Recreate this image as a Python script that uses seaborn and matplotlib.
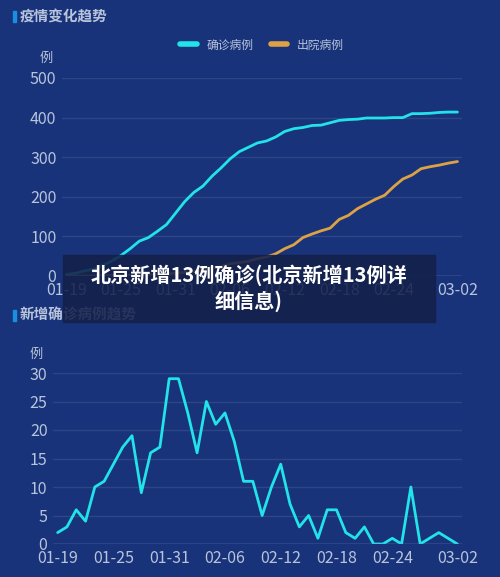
import matplotlib
matplotlib.use("Agg")
import matplotlib.pyplot as plt
import seaborn as sns
import pandas as pd
import numpy as np
import datetime as dt

sns.set_theme(style="white")
plt.rcParams['font.family'] = ['Noto Sans CJK SC', 'DejaVu Sans']

dates = [(dt.date(2020, 1, 19) + dt.timedelta(days=i)).strftime("%m-%d") for i in range(44)]
tick_labels = ["01-19", "01-25", "01-31", "02-06", "02-12", "02-18", "02-24", "03-02"]
confirmed = [4, 7, 13, 17, 27, 38, 52, 69, 88, 97, 113, 130, 159, 188, 211, 227, 252, 273,
             296, 314, 325, 336, 341, 351, 365, 372, 375, 380, 381, 387, 393, 395, 396, 399,
             399, 399, 400, 400, 410, 410, 411, 413, 414, 414]
recovered = [0, 0, 0, 0, 1, 1, 1, 2, 2, 4, 4, 5, 7, 9, 12, 15, 21, 24, 31, 34, 37, 44, 48, 56,
             69, 79, 97, 106, 114, 121, 143, 153, 170, 182, 194, 204, 226, 245, 255, 271, 276,
             280, 285, 289]
new_cases = [2, 3, 6, 4, 10, 11, 14, 17, 19, 9, 16, 17, 29, 29, 23, 16, 25, 21, 23, 18, 11, 11,
             5, 10, 14, 7, 3, 5, 1, 6, 6, 2, 1, 3, 0, 0, 1, 0, 10, 0, 1, 2, 1, 0]

BG = "#183379"
CYAN = "#22e3ea"
ORANGE = "#dda245"
TXT = "#b8c4dc"
GRID = "#2c4688"

df = pd.DataFrame({"x": np.arange(44), "确诊病例": confirmed, "出院病例": recovered, "new": new_cases})

fig = plt.figure(figsize=(5, 5.77), dpi=100, facecolor=BG)
W, H = 500, 577

def style(ax, yticks):
    ax.set_facecolor(BG)
    for s in ax.spines.values():
        s.set_visible(False)
    ax.set_yticks(yticks)
    ax.set_ylim(yticks[0], yticks[-1])
    ax.grid(axis="y", color=GRID, lw=1)
    ax.set_xlim(-0.5, 43.5)
    ticks = [0, 6, 12, 18, 24, 30, 36, 43]
    ax.set_xticks(ticks)
    ax.set_xticklabels(tick_labels)
    ax.tick_params(colors=TXT, labelsize=11.5, length=0, pad=4)
    ax.set_xlabel(""); ax.set_ylabel("")
    ax.axhline(yticks[0], color="#6a7fb0", lw=1)

ax1 = fig.add_axes([62/W, 1-276/H, 400/W, 198/H])
sns.lineplot(data=df, x="x", y="确诊病例", color=CYAN, lw=2, ax=ax1, label="确诊病例")
sns.lineplot(data=df, x="x", y="出院病例", color=ORANGE, lw=2, ax=ax1, label="出院病例")
style(ax1, [0, 100, 200, 300, 400, 500])
leg = ax1.legend(loc="lower center", bbox_to_anchor=(0.5, 1.08), ncol=2, frameon=False,
                 fontsize=8.5, labelcolor=TXT, handlelength=1.4, columnspacing=1.5)
for l in leg.get_lines():
    l.set_linewidth(4)
ax1.text(-0.04, 1.08, "例", transform=ax1.transAxes, color=TXT, fontsize=9.5, ha="center")

ax2 = fig.add_axes([53/W, 1-544/H, 409/W, 171/H])
sns.lineplot(data=df, x="x", y="new", color=CYAN, lw=2, ax=ax2)
style(ax2, [0, 5, 10, 15, 20, 25, 30])
ax2.text(-0.04, 1.09, "例", transform=ax2.transAxes, color=TXT, fontsize=9.5, ha="center")

# section titles
fig.patches.append(plt.Rectangle((13/W, 1-22/H), 3/W, 11/H, color="#1a8fe0", transform=fig.transFigure))
fig.text(20/W, 1-17/H, "疫情变化趋势", color=TXT, fontsize=10.5, va="center", fontweight="bold")
fig.patches.append(plt.Rectangle((13/W, 1-321/H), 3/W, 11/H, color="#1a8fe0", transform=fig.transFigure))
fig.text(20/W, 1-315/H, "新增确诊病例趋势", color=TXT, fontsize=10.5, va="center", fontweight="bold")

# overlay banner
fig.patches.append(plt.Rectangle((63/W, 1-322/H), 372/W, 67/H, color="#14204a", alpha=0.88,
                                 transform=fig.transFigure, zorder=10))
fig.text(249/W, 1-288/H, "北京新增13例确诊(北京新增13例详\n细信息)", color="white", fontsize=14.5,
         fontweight="bold", ha="center", va="center", zorder=11, linespacing=1.25)

fig.savefig("out.png", dpi=100, facecolor=BG)
